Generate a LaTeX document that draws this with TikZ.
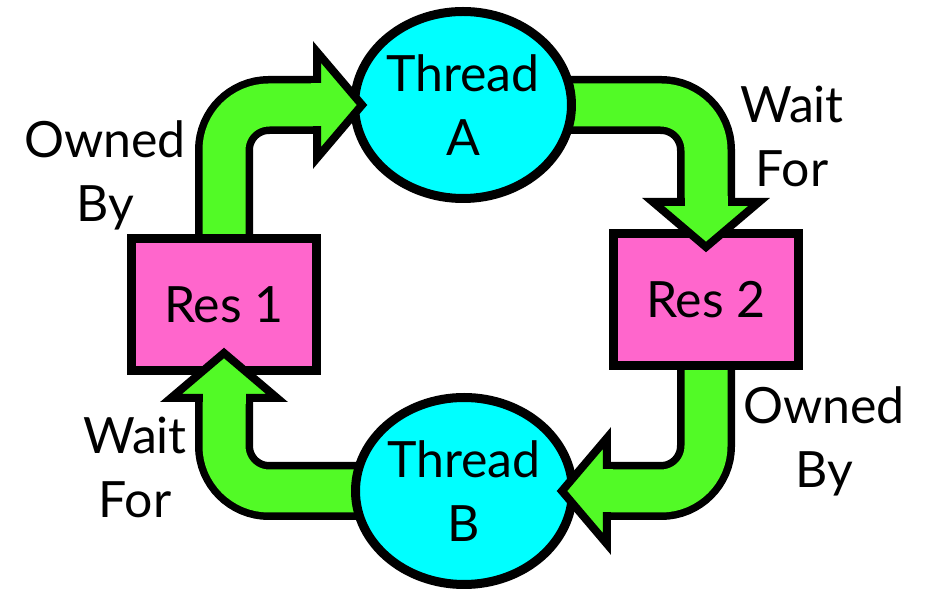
\documentclass[tikz,border=0pt]{standalone}
\usepackage{fontspec}
\setmainfont{Lato}
\usetikzlibrary{shapes.geometric}

\definecolor{arrowgreen}{RGB}{82,250,38}
\definecolor{threadcyan}{RGB}{0,255,255}
\definecolor{respink}{RGB}{255,102,204}

\pgfdeclarelayer{bg}
\pgfsetlayers{bg,main}

\tikzset{
  thread/.style={ellipse, draw, fill=threadcyan, line width=9pt,
    minimum width=211pt, minimum height=187pt, inner sep=0pt, align=center},
  res/.style={rectangle, draw, fill=respink, line width=9pt,
    minimum width=185pt, minimum height=132pt, inner sep=0pt},
  lbl/.style={align=center, anchor=base, inner sep=0pt},
  shaftout/.style={draw=black, line width=58pt, rounded corners=45pt},
  shaftin/.style={draw=arrowgreen, line width=43pt, rounded corners=45pt},
  head/.style={draw=black, fill=arrowgreen, line width=8pt, line join=miter},
}

\begin{document}
\begin{tikzpicture}[x=1pt, y=1pt, font=\fontsize{50pt}{64pt}\selectfont]
    \useasboundingbox (0,0) rectangle (927,589);

    \node[thread] (tA) at (463,484) {Thread\\A};
    \node[thread] (tB) at (464,98) {Thread\\B};
    \node[res] (r1) at (224,284.5) {Res 1};
    \node[res] (r2) at (706,289.5) {Res 2};

    % labels are placed at the baseline of their last line
    \node[lbl] (own1) at (105,367) {Owned\\By};
    \node[lbl] (wait2) at (792,402) {Wait\\For};
    \node[lbl] (own2) at (824,101) {Owned\\By};
    \node[lbl] (wait1) at (135,71) {Wait\\For};

    % arrow tips sit a little inside the node they point at
    \coordinate (tip1) at ([xshift=12pt]tA.west);
    \coordinate (base1) at ([xshift=-33pt]tA.west);
    \coordinate (tip2) at ([yshift=-18pt]r2.north);
    \coordinate (base2) at ([yshift=27pt]r2.north);
    \coordinate (tip3) at ([xshift=-15pt]tB.east);
    \coordinate (base3) at ([xshift=30pt]tB.east);
    \coordinate (tip4) at ([yshift=22pt]r1.south);
    \coordinate (base4) at ([yshift=-23pt]r1.south);

    \begin{pgfonlayer}{bg}
        \draw[shaftout] (r1.center) |- (base1);
        \draw[shaftin] (r1.center) |- (base1);
        \draw[shaftout] (tA.center) -| (base2);
        \draw[shaftin] (tA.center) -| (base2);
        \draw[shaftout] (r2.center) |- (base3);
        \draw[shaftin] (r2.center) |- (base3);
        \draw[shaftout] (tB.center) -| (base4);
        \draw[shaftin] (tB.center) -| (base4);
    \end{pgfonlayer}

    \draw[head] ([yshift=53pt]base1) -- (tip1) -- ([yshift=-53pt]base1) -- cycle;
    \draw[shaftin] ([xshift=-6pt]base1) -- ([xshift=6pt]base1);
    \draw[head] ([xshift=-53pt]base2) -- (tip2) -- ([xshift=53pt]base2) -- cycle;
    \draw[shaftin] ([yshift=6pt]base2) -- ([yshift=-6pt]base2);
    \draw[head] ([yshift=53pt]base3) -- (tip3) -- ([yshift=-53pt]base3) -- cycle;
    \draw[shaftin] ([xshift=6pt]base3) -- ([xshift=-6pt]base3);
    \draw[head] ([xshift=-53pt]base4) -- (tip4) -- ([xshift=53pt]base4) -- cycle;
    \draw[shaftin] ([yshift=-6pt]base4) -- ([yshift=6pt]base4);
\end{tikzpicture}
\end{document}
